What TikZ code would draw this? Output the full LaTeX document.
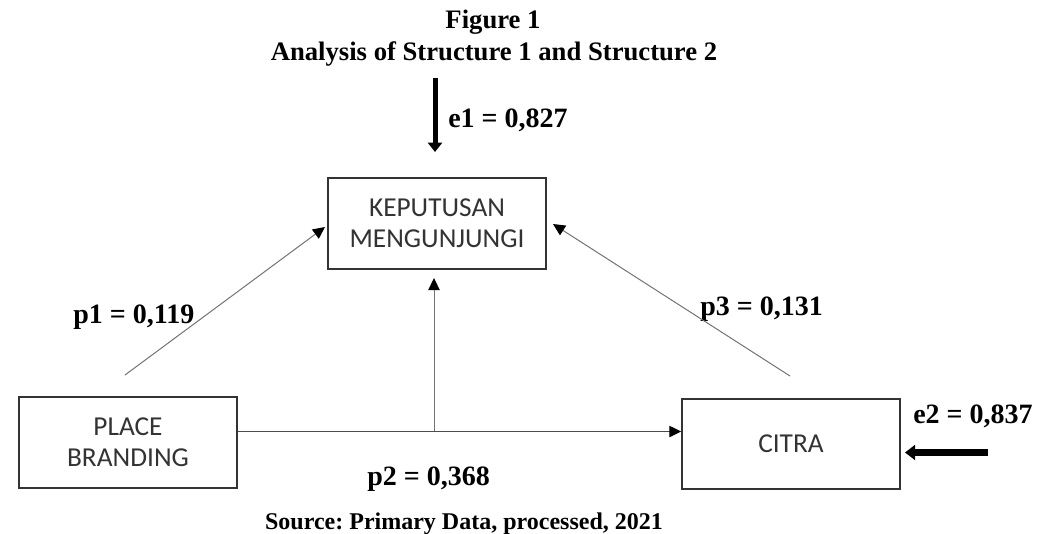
\documentclass[tikz,border=0pt]{standalone}
\usepackage{fontspec}
\setmainfont{Liberation Serif}
\newfontfamily\boxfont{Carlito}
\usetikzlibrary{arrows.meta}
\frenchspacing
\begin{document}
\begin{tikzpicture}[x=0.75pt,y=-0.75pt,
  varbox/.style={draw=black!80, line width=1.1pt, minimum width=163.5pt,
    minimum height=68.25pt, inner sep=0pt, align=center,
    font=\boxfont\fontsize{20.5}{23.25}\selectfont, text=black!80},
  lbl/.style={font=\bfseries\fontsize{21}{24}\selectfont, anchor=base west, inner sep=0pt},
  ttl/.style={font=\bfseries\fontsize{20}{24}\selectfont, anchor=base, inner sep=0pt},
  src/.style={font=\bfseries\fontsize{18}{22}\selectfont, anchor=base, inner sep=0pt},
  thinarrow/.style={draw=black!55, line width=0.75pt, -{Triangle[length=9pt,width=8.5pt,color=black]}},
  hlinearrow/.style={draw=black!70, line width=1pt, -{Triangle[length=9pt,width=8.5pt,color=black]}},
  thickarrow/.style={draw=black, -{Triangle[length=7pt,width=10.5pt]}}
]
\useasboundingbox (0,0) rectangle (1039,533);

% titles
\node[ttl] (t1) at (493,28) {Figure 1};
\node[ttl] (t2) at (494,60) {Analysis of Structure 1 and Structure 2};

% boxes
\node[varbox] (kep) at (437,223.5) {KEPUTUSAN\\MENGUNJUNGI};
\node[varbox] (pb) at (128,442.5) {PLACE\\BRANDING};
\node[varbox, minimum height=67.5pt] (cit) at (791,444) {CITRA};

% labels
\node[lbl] (le1) at (448,127) {e1 = 0,827};
\node[lbl] (lp1) at (73,323) {p1 = 0,119};
\node[lbl] (lp2) at (367,485) {p2 = 0,368};
\node[lbl] (lp3) at (700,315) {p3 = 0,131};
\node[lbl] (le2) at (913,423) {e2 = 0,837};
\node[src] (source) at (464,529) {Source: Primary Data, processed, 2021};

% connector coordinates
\coordinate (p1s) at (125,375);
\coordinate (p1e) at (325,227);
\coordinate (p3s) at (790,376);
\coordinate (p3e) at (553,224);
\coordinate (mid) at (434,431.5);
\coordinate (vtip) at (434,278);
\coordinate (e1s) at (435,78);
\coordinate (e1e) at (435,152);
\coordinate (e2s) at (988,452.5);
\coordinate (e2e) at (905,452.5);

% connectors
\draw[thinarrow] (p1s) -- (p1e);
\draw[thinarrow] (p3s) -- (p3e);
\draw[thinarrow] (mid) -- (vtip);
\draw[hlinearrow] (pb.east |- mid) -- (cit.west |- mid);
\draw[thickarrow, line width=3.75pt] (e1s) -- (e1e);
\draw[thickarrow, line width=5.25pt, -{Triangle[length=7.5pt,width=11pt]}] (e2s) -- (e2e);
\end{tikzpicture}
\end{document}
